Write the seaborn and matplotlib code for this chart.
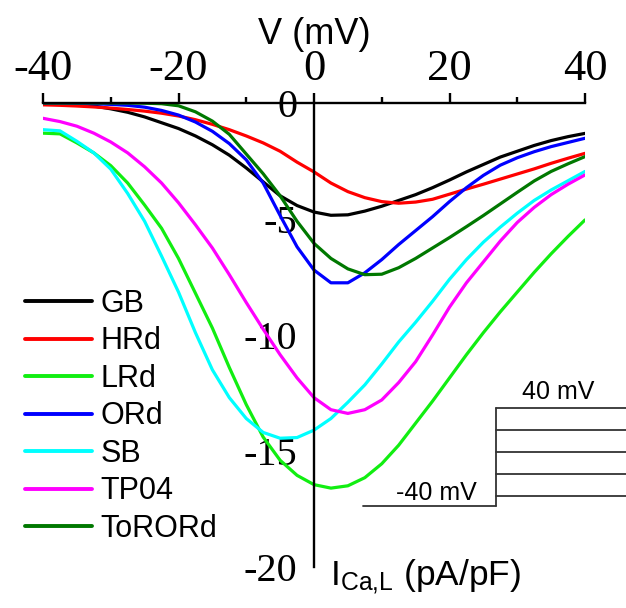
import numpy as np
import pandas as pd
import matplotlib
matplotlib.use("Agg")
import matplotlib.pyplot as plt
import seaborn as sns
from matplotlib.lines import Line2D

V = [-40, -37.5, -35, -32.5, -30, -27.5, -25, -22.5, -20, -17.5, -15, -12.5, -10, -7.5, -5, -2.5,
     0, 2.5, 5, 7.5, 10, 12.5, 15, 17.5, 20, 22.5, 25, 27.5, 30, 32.5, 35, 37.5, 40]

GB = [0, -0.02, -0.06, -0.13, -0.25, -0.4, -0.6, -0.85, -1.1, -1.42, -1.8, -2.25, -2.8, -3.4, -4.0, -4.42,
      -4.7, -4.84, -4.82, -4.66, -4.45, -4.2, -3.95, -3.65, -3.32, -2.97, -2.65, -2.33, -2.08, -1.83, -1.62, -1.45, -1.31]
HRd = [-0.08, -0.1, -0.13, -0.17, -0.22, -0.28, -0.35, -0.44, -0.56, -0.72, -0.92, -1.15, -1.42, -1.72, -2.08, -2.55,
       -2.97, -3.45, -3.82, -4.08, -4.25, -4.32, -4.27, -4.15, -3.93, -3.71, -3.5, -3.28, -3.06, -2.84, -2.6, -2.38, -2.17]
LRd = [-1.3, -1.33, -1.72, -2.15, -2.7, -3.45, -4.4, -5.4, -6.7, -8.2, -9.7, -11.4, -13.0, -14.4, -15.4, -16.05,
       -16.45, -16.6, -16.5, -16.15, -15.55, -14.75, -13.8, -12.85, -11.85, -10.85, -9.9, -9.0, -8.15, -7.3, -6.5, -5.75, -5.04]
ORd = [0, 0, -0.01, -0.03, -0.06, -0.1, -0.18, -0.32, -0.52, -0.82, -1.22, -1.75, -2.45, -3.45, -4.85, -6.2,
       -7.2, -7.75, -7.75, -7.32, -6.75, -6.1, -5.5, -4.9, -4.25, -3.65, -3.12, -2.68, -2.36, -2.1, -1.88, -1.7, -1.52]
SB = [-1.15, -1.2, -1.65, -2.15, -2.85, -3.9, -5.1, -6.6, -8.15, -9.9, -11.5, -12.7, -13.6, -14.2, -14.45, -14.42,
      -14.1, -13.6, -12.9, -12.15, -11.25, -10.3, -9.45, -8.55, -7.6, -6.75, -6.0, -5.35, -4.75, -4.2, -3.75, -3.35, -2.95]
TP04 = [-0.66, -0.8, -1.0, -1.3, -1.68, -2.15, -2.75, -3.45, -4.3, -5.25, -6.25, -7.4, -8.6, -9.75, -10.85, -11.85,
        -12.7, -13.22, -13.38, -13.22, -12.8, -12.05, -11.15, -10.0, -8.8, -7.75, -6.85, -5.95, -5.15, -4.5, -3.95, -3.5, -3.1]
ToRORd = [0, 0, 0, 0, 0, 0, -0.01, -0.03, -0.12, -0.38, -0.78, -1.35, -2.2, -3.05, -4.0, -5.1,
          -6.05, -6.7, -7.15, -7.4, -7.38, -7.1, -6.7, -6.25, -5.8, -5.33, -4.85, -4.35, -3.85, -3.36, -2.95, -2.62, -2.31]

models = ["GB", "HRd", "LRd", "ORd", "SB", "TP04", "ToRORd"]
series = [GB, HRd, LRd, ORd, SB, TP04, ToRORd]
colors = ["#000000", "#ff0000", "#11ee11", "#0000ff", "#00ffff", "#ff00ff", "#007800"]

x_ticks = [-40, -20, 0, 20, 40]
y_ticks = [0, -5, -10, -15, -20]

df = pd.concat([pd.DataFrame({"V": V, "I": s, "model": m}) for m, s in zip(models, series)],
               ignore_index=True)

sns.set_style("white")
plt.rcParams["font.family"] = ["Liberation Sans", "DejaVu Sans"]
plt.rcParams["axes.unicode_minus"] = False
plt.rcParams["mathtext.fontset"] = "custom"
plt.rcParams["mathtext.rm"] = "Liberation Sans"
plt.rcParams["mathtext.it"] = "Liberation Sans"
plt.rcParams["lines.solid_joinstyle"] = "round"
plt.rcParams["text.color"] = "black"
plt.rcParams["axes.labelcolor"] = "black"
plt.rcParams["xtick.color"] = "black"
plt.rcParams["ytick.color"] = "black"

W, H = 626, 608
fig = plt.figure(figsize=(W / 100, H / 100), dpi=100)
ax = fig.add_axes([43 / W, 1 - 567 / H, 542 / W, 464 / H])

sns.lineplot(data=df, x="V", y="I", hue="model", hue_order=models,
             palette=dict(zip(models, colors)), errorbar=None, sort=False,
             linewidth=2.3, ax=ax)

ax.set_xlim(-40, 40)
ax.set_ylim(-20, 0)
for s in ["right", "bottom"]:
    ax.spines[s].set_visible(False)
ax.spines["left"].set_position(("data", 0))
for s in ["left", "top"]:
    ax.spines[s].set_linewidth(1.7)
    ax.spines[s].set_color("black")

ax.xaxis.tick_top()
ax.xaxis.set_label_position("top")
ax.set_xticks(x_ticks)
ax.set_xticklabels([str(t) for t in x_ticks])
ax.set_xticks([-30, -10, 10, 30], minor=True)
ax.set_yticks(y_ticks)
ax.set_yticklabels([str(t) for t in y_ticks])
ax.set_yticks([-2.5, -7.5, -12.5, -17.5], minor=True)

ax.tick_params(axis="x", which="major", direction="out", length=7, width=1.7, pad=3,
               labelsize=32, top=True, bottom=False, colors="black")
ax.tick_params(axis="x", which="minor", direction="out", length=4, width=1.7, top=True, bottom=False,
               colors="black")
ax.tick_params(axis="y", which="major", direction="out", length=6, width=1.7, pad=6,
               labelsize=29, colors="black")
ax.tick_params(axis="y", which="minor", direction="out", length=4, width=1.7, colors="black")
for lab in ax.get_xticklabels() + ax.get_yticklabels():
    lab.set_fontfamily("Liberation Serif")
    lab.set_color("black")

ax.set_xlabel("V (mV)", fontsize=26, labelpad=4, color="black")
ax.set_ylabel("")
fig.text(330 / W, 1 - 577 / H, r"$\mathregular{I_{Ca{,}L}}$ (pA/pF)", fontsize=25.5,
         ha="left", va="center", color="black")

old = ax.get_legend()
handles = old.legend_handles
labels = [t.get_text() for t in old.get_texts()]
old.remove()
for h in handles:
    h.set_linewidth(2.8)
leg = ax.legend(handles, labels, loc="upper left", bbox_to_anchor=(25 / W, 1 - 289 / H),
                bbox_transform=fig.transFigure, frameon=False, fontsize=22, handlelength=2.2,
                handletextpad=0.26, labelspacing=0.245, borderpad=0, borderaxespad=0)
for t in leg.get_texts():
    t.set_color("black")

# voltage-protocol inset (figure pixel coordinates)
def P(x, y):
    return x / W, 1 - y / H

proto = "#333333"
segs = [((363, 506), (496, 506)), ((496, 506), (496, 408))]
for yy in [408, 430, 452, 474, 496]:
    segs.append(((496, yy), (626, yy)))
for (a, b) in segs:
    (x0, y0), (x1, y1) = P(*a), P(*b)
    fig.add_artist(Line2D([x0, x1], [y0, y1], transform=fig.transFigure,
                          color=proto, linewidth=1.3))
fig.text(*P(558, 392), "40 mV", fontsize=18, ha="center", va="center", color="black")
fig.text(*P(436, 493), "-40 mV", fontsize=18, ha="center", va="center", color="black")

fig.savefig("out.png", dpi=100)
